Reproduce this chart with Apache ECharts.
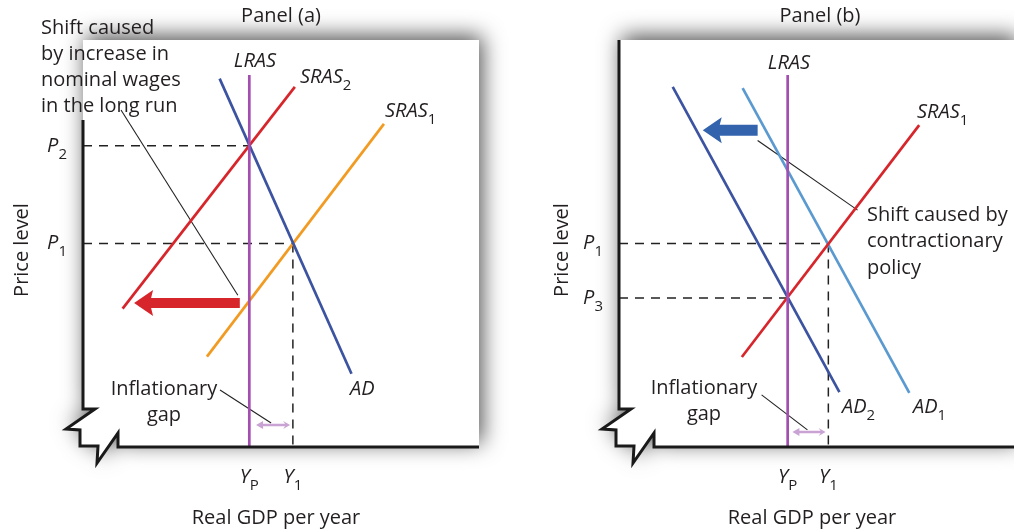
<!DOCTYPE html>
<html><head><meta charset="utf-8">
<script src="https://cdn.jsdelivr.net/npm/echarts@6/dist/echarts.min.js"></script>
<style>html,body{margin:0;padding:0;background:#fff}#c{width:1014px;height:531px}</style>
</head><body><div id="c"></div><script>
// ---------- Panel (a) data (axis units 0..100) ----------
const aLRAS = [[42, 0], [42, 91.4]];
const aSRAS2 = [[10, 34], [53.5, 88.5]];
const aSRAS1 = [[31.3, 22.2], [76, 79.4]];
const aAD = [[34.5, 90.5], [67.8, 18]];
const aGuideP2 = [[0, 74], [42, 74]];
const aGuideP1 = [[0, 50], [53, 50]];
const aGuideY1 = [[53, 50], [53, 0]];
const aShiftArrow = [[39.6, 35.4, 12.9, 35.4]];
const aGapArrow = [[43.7, 5.4, 52.3, 5.4]];
const aShiftPointer = [[9.6, 82.8], [39.1, 37.3]];
const aGapPointer = [[34.6, 14.0], [47.5, 5.9]];
const aPTicks = [50, 74];
const aPSubs = ['1', '2'];
const aYTicks = [42, 53];
const aYSubs = ['P', '1'];

// ---------- Panel (b) data ----------
const bLRAS = [[42.7, 0], [42.7, 91.4]];
const bAD2 = [[13.6, 88.5], [55.8, 13.5]];
const bAD1 = [[31.3, 88.2], [73.5, 13.3]];
const bSRAS1 = [[31.1, 22.1], [76, 79.1]];
const bGuideP1 = [[0, 50], [53, 50]];
const bGuideP3 = [[0, 36.6], [42.7, 36.6]];
const bGuideY1 = [[53, 50], [53, 0]];
const bShiftArrow = [[35.1, 77.8, 21.2, 77.8]];
const bGapArrow = [[43.9, 3.7, 52.3, 3.7]];
const bShiftPointer = [[35.1, 75.3], [60.4, 58.2]];
const bGapPointer = [[36.1, 12.8], [47.7, 4.2]];
const bPTicks = [36.6, 50];
const bPSubs = ['3', '1'];
const bYTicks = [42.7, 53];
const bYSubs = ['P', '1'];

// ---------- styling / layout ----------
const FONT = '"Open Sans", sans-serif';
const TXT = '#231f20';
const C = {lras:'#a24fb0', red:'#d7262b', orange:'#f29b22', blue:'#3b53a0', light:'#5b9ad0',
           arrowBlue:'#3463ad', gap:'#c9a3d3', dash:'#222222', ptr:'#222222'};
const GA = {left:83, top:40, width:396, height:407, axisTop:120};
const GB = {left:619, top:40, width:396, height:407, axisTop:40};

const rich = {
  i: {fontFamily:FONT, fontStyle:'italic', fontSize:20, lineHeight:32, color:TXT, fill:TXT, verticalAlign:'middle'},
  s: {fontFamily:FONT, fontSize:15, lineHeight:32, color:TXT, fill:TXT, verticalAlign:'bottom'}
};

function subLabel(vals, subs, main) {
  return v => {
    const k = vals.findIndex(t => Math.abs(t - v) < 1e-6);
    return k < 0 ? '' : '{i|' + main + '}{s|' + subs[k] + '}';
  };
}
function xAx(gi, ticks, subs) {
  return {gridIndex:gi, type:'value', min:0, max:100, axisLine:{show:false}, axisTick:{show:false},
    splitLine:{show:false}, axisLabel:{customValues:ticks, formatter:subLabel(ticks, subs, 'Y'), rich, margin:14}};
}
function yAx(gi, ticks, subs) {
  return {gridIndex:gi, type:'value', min:0, max:100, axisLine:{show:false}, axisTick:{show:false},
    splitLine:{show:false}, axisLabel:{customValues:ticks, formatter:subLabel(ticks, subs, 'P'), rich, margin:16}};
}
function line(gi, data, color, width, type, z) {
  return {type:'line', xAxisIndex:gi, yAxisIndex:gi, data, symbol:'none', silent:true, animation:false,
    lineStyle:{color, width, type:type || 'solid', cap:'butt'}, z:z || 2};
}
function arrow(gi, data, color, shaft, headW, headL, both) {
  return {type:'custom', xAxisIndex:gi, yAxisIndex:gi, data, silent:true, animation:false, z:5,
    encode:{x:[0, 2], y:[1, 3]},
    renderItem(params, api) {
      const a = api.coord([api.value(0), api.value(1)]);
      const b = api.coord([api.value(2), api.value(3)]);
      const dx = b[0] - a[0], dy = b[1] - a[1], len = Math.hypot(dx, dy);
      const ux = dx / len, uy = dy / len, nx = -uy, ny = ux;
      const pt = (p, al, ac) => [p[0] + ux * al + nx * ac, p[1] + uy * al + ny * ac];
      const pts = [];
      if (both) pts.push(a, pt(a, headL, headW / 2), pt(a, headL, shaft / 2));
      else pts.push(pt(a, 0, shaft / 2));
      pts.push(pt(b, -headL + 2, shaft / 2), pt(b, -headL, headW / 2), b, pt(b, -headL, -headW / 2), pt(b, -headL + 2, -shaft / 2));
      if (both) pts.push(pt(a, headL, -shaft / 2), pt(a, headL, -headW / 2));
      else pts.push(pt(a, 0, -shaft / 2));
      return {type:'polygon', shape:{points:pts}, style:{fill:color}};
    }};
}

// card + frame with axis break
function card(g) {
  const L = g.left, T = g.top, B = g.top + g.height;
  const R2 = g.left + g.width;
  const zig = [[L, B - 38], [L + 12, B - 38], [L - 17, B - 18], [L - 3, B - 17], [L - 3, B - 1],
               [L + 15, B - 1], [L + 14, B + 16], [L + 35, B - 14], [L + 35, B]];
  return [
    {type:'polygon', z:0, silent:true,
      shape:{points:[[L, T], [R2, T], [R2, B]].concat(zig.slice().reverse()).concat([[L, T]])},
      style:{fill:'#ffffff', shadowBlur:22, shadowColor:'rgba(0,0,0,0.7)', shadowOffsetX:3, shadowOffsetY:-4}},
    {type:'polyline', z:10, silent:true,
      shape:{points:[[L, g.axisTop]].concat(zig).concat([[Math.min(R2, 1020), B]])},
      style:{stroke:'#1a1a1a', lineWidth:3, fill:null, lineJoin:'miter'}}
  ];
}
function txt(x, y, text, align, extra) {
  return Object.assign({type:'text', x, y, z:20, silent:true,
    style:{text, fill:TXT, font:'20px ' + FONT, align:align || 'left', textAlign:align || 'left',
      verticalAlign:'middle', textVerticalAlign:'middle', rich}}, extra || {});
}
function mtxt(x, y, text, align, lh) {
  return {type:'text', x, y, z:20, silent:true,
    style:{text, fill:TXT, font:'20px ' + FONT, align:align, textAlign:align,
      verticalAlign:'top', textVerticalAlign:'top', lineHeight:lh}};
}
const IT = 'italic 20px ' + FONT;
function itxt(x, y, text) {
  return {type:'text', x, y, z:20, silent:true,
    style:{text, fill:TXT, font:IT, align:'center', textAlign:'center', verticalAlign:'middle', textVerticalAlign:'middle'}};
}

const chart = echarts.init(document.getElementById('c'));
chart.setOption({
  animation:false,
  backgroundColor:'#ffffff',
  grid:[
    {left:GA.left, top:GA.top, width:GA.width, height:GA.height},
    {left:GB.left, top:GB.top, width:GB.width, height:GB.height}
  ],
  xAxis:[xAx(0, aYTicks, aYSubs), xAx(1, bYTicks, bYSubs)],
  yAxis:[yAx(0, aPTicks, aPSubs), yAx(1, bPTicks, bPSubs)],
  graphic:[].concat(card(GA), card(GB), [
    txt(281, 16, 'Panel (a)', 'center'),
    txt(820, 16, 'Panel (b)', 'center'),
    mtxt(41, 15, 'Shift caused\nby increase in\nnominal wages\nin the long run', 'left', 26),
    mtxt(867, 202, 'Shift caused by\ncontractionary\npolicy', 'left', 26.5),
    mtxt(164, 376, 'Inflationary\ngap', 'center', 26),
    mtxt(704, 375, 'Inflationary\ngap', 'center', 26),
    txt(22, 250, 'Price level', 'center', {rotation:Math.PI / 2}),
    txt(562, 250, 'Price level', 'center', {rotation:Math.PI / 2}),
    txt(276, 518, 'Real GDP per year', 'center'),
    txt(812, 518, 'Real GDP per year', 'center'),
    itxt(255, 61, 'LRAS'),
    itxt(789, 63, 'LRAS'),
    txt(300, 77, '{i|SRAS}{s|2}', 'left'),
    txt(385, 111, '{i|SRAS}{s|1}', 'left'),
    txt(917, 112, '{i|SRAS}{s|1}', 'left'),
    txt(350, 389, '{i|AD}', 'left'),
    txt(842, 407, '{i|AD}{s|2}', 'left'),
    txt(913, 407, '{i|AD}{s|1}', 'left')
  ]),
  series:[
    // panel (a)
    line(0, aGuideP2, C.dash, 1.5, [9, 7]),
    line(0, aGuideP1, C.dash, 1.5, [9, 7]),
    line(0, aGuideY1, C.dash, 1.5, [9, 7]),
    line(0, aShiftPointer, C.ptr, 1.1),
    line(0, aGapPointer, C.ptr, 1.1),
    line(0, aSRAS1, C.orange, 2.7),
    line(0, aSRAS2, C.red, 2.7),
    line(0, aAD, C.blue, 2.7),
    line(0, aLRAS, C.lras, 2.7, 'solid', 3),
    arrow(0, aShiftArrow, C.red, 10, 26, 19, false),
    arrow(0, aGapArrow, C.gap, 2.5, 8, 7, true),
    // panel (b)
    line(1, bGuideP1, C.dash, 1.5, [9, 7]),
    line(1, bGuideP3, C.dash, 1.5, [9, 7]),
    line(1, bGuideY1, C.dash, 1.5, [9, 7]),
    line(1, bShiftPointer, C.ptr, 1.1),
    line(1, bGapPointer, C.ptr, 1.1),
    line(1, bAD1, C.light, 2.7),
    line(1, bAD2, C.blue, 2.7),
    line(1, bSRAS1, C.red, 2.7),
    line(1, bLRAS, C.lras, 2.7, 'solid', 3),
    arrow(1, bShiftArrow, C.arrowBlue, 11, 26, 19, false),
    arrow(1, bGapArrow, C.gap, 2.5, 8, 7, true)
  ]
});
</script></body></html>
